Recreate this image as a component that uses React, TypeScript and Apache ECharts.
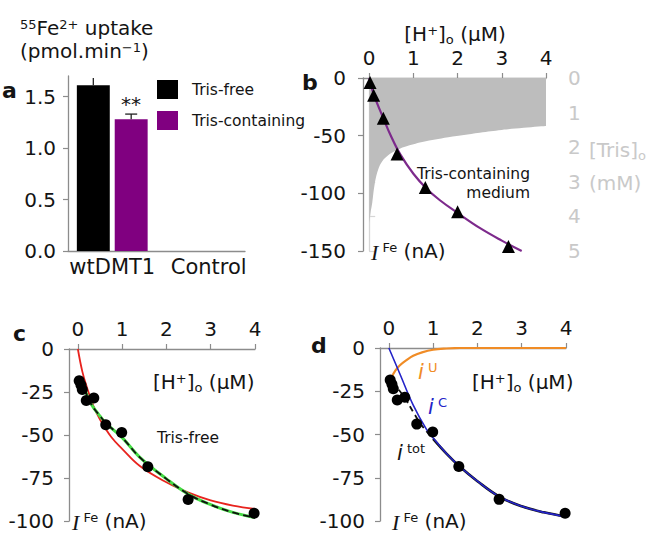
import React, { useEffect, useRef } from 'react';
import * as echarts from 'echarts';

// ---------- Panel a: 55Fe2+ uptake ----------
const barCategories = ['wtDMT1', 'Control'];
const trisFreeUptake = [1.61, 0];
const trisFreeErr = [0.07, 0];
const trisContUptake = [1.28, 0];
const trisContErr = [0.05, 0];
const uptakeTicks = [0, 0.5, 1.0, 1.5];

// ---------- Shared [H+]o ticks ----------
const hTicks = [0, 1, 2, 3, 4];

// ---------- Panel b: Tris-containing medium ----------
const trisH = [0, 0.03, 0.07, 0.12, 0.2, 0.3, 0.43, 0.6, 0.81, 1.2, 1.79, 2.5, 3, 3.5, 4];
const trisConc = [4.2, 3.9, 3.6, 3.1, 2.66, 2.4, 2.23, 2.1, 1.99, 1.85, 1.71, 1.58, 1.5, 1.44, 1.39];
const fitBH = [0, 0.1, 0.3, 0.5, 0.7, 1, 1.3, 1.6, 2, 2.5, 3, 3.45];
const fitBI = [0, -14, -33, -51, -66, -83, -96, -106, -117, -130, -141, -150];
const triH = [0.02, 0.1, 0.32, 0.63, 1.27, 2.0, 3.15];
const triI = [-4, -15, -35, -66, -95, -116, -146];

// ---------- Panels c & d: Tris-free data ----------
const dataH = [0.03, 0.07, 0.1, 0.19, 0.36, 0.63, 0.99, 1.58, 2.49, 3.98];
const dataI = [-18.5, -21, -23.5, -30, -28.5, -44, -48.5, -68.5, -87.5, -95.5];

// panel c fits
const redH = [0, 0.1, 0.2, 0.35, 0.5, 0.75, 1, 1.4, 2, 2.5, 3, 3.5, 4];
const redI = [0, -13, -22, -33, -41, -51, -58, -68, -77.5, -83.5, -88, -91, -93];
const greenH = [0.15, 0.3, 0.5, 0.65, 1, 1.4, 2, 2.5, 3, 3.5, 4];
const greenI = [-23, -32, -39, -43.5, -51.5, -63, -75.5, -84.5, -90.5, -95, -98];

// panel d components
const iuH = [0.06, 0.15, 0.25, 0.4, 0.55, 0.75, 1, 1.3, 1.6, 2, 3, 4];
const iuI = [-17, -13, -10, -7, -4.5, -2.5, -1, -0.3, 0, 0, 0, 0];
const icH = [0, 0.25, 0.55, 0.85, 1.05, 1.3, 1.6, 2, 2.5, 3, 3.5, 4];
const icI = [0, -15, -33, -47, -53.5, -61, -68.5, -77, -86, -91.5, -95, -97.5];
const itotDashH = [0.06, 0.25, 0.4, 0.55, 0.75, 1];
const itotDashI = [-20, -25, -30.5, -37, -45, -52.5];
const itotH = [1, 1.3, 1.6, 2, 2.5, 3, 3.5, 4];
const itotI = [-52.5, -61, -68.5, -77, -86, -91.5, -95, -97.5];

const FONT = '"DejaVu Sans", Verdana, sans-serif';
const SERIF = '"Liberation Serif", "Times New Roman", serif';
const AX = '#8c8c8c';
const TXT = '#141414';
const LIGHT = '#c9c9c9';
const ORANGE = '#f08c26';
const BLUE = '#2424c8';

const zip = (a: number[], b: number[]) => a.map((v, i) => [v, b[i]]);

const valueAxisX = (grid: number, min: number) => ({
  type: 'value', gridIndex: grid, position: 'top', min, max: 4,
  axisLine: { show: true, onZero: false, lineStyle: { color: AX, width: 1.3 } },
  axisTick: { show: true, length: 5, lineStyle: { color: AX, width: 1.2 }, customValues: hTicks },
  axisLabel: { fontSize: 20, color: TXT, fontFamily: FONT, margin: 10, customValues: hTicks },
  splitLine: { show: false },
});

const valueAxisY = (grid: number, min: number, max: number, interval: number, margin: number) => ({
  type: 'value', gridIndex: grid, min, max, interval,
  axisLine: { show: true, onZero: false, lineStyle: { color: AX, width: 1.3 } },
  axisTick: { show: true, length: 5, lineStyle: { color: AX, width: 1.2 } },
  axisLabel: { fontSize: 20, color: TXT, fontFamily: FONT, margin },
  splitLine: { show: false },
});

const rich = (color: string) => ({
  n: { fontSize: 20, fontFamily: FONT, fill: color, color, lineHeight: 22, verticalAlign: 'top' },
  it: { fontSize: 22, fontFamily: SERIF, fontStyle: 'italic', fill: color, color, lineHeight: 22, verticalAlign: 'top' },
  is: { fontSize: 21, fontFamily: FONT, fontStyle: 'italic', fill: color, color, lineHeight: 22, verticalAlign: 'top' },
  sup: { fontSize: 13, fontFamily: FONT, fill: color, color, lineHeight: 9, verticalAlign: 'top' },
  sub: { fontSize: 13, fontFamily: FONT, fill: color, color, lineHeight: 13, padding: [14, 0, 0, 0], verticalAlign: 'bottom' },
});

const txt = (x: number, y: number, text: string, color = TXT, align = 'left', extra: any = {}) => ({
  type: 'text', x, y, z: 100,
  style: {
    text, rich: rich(color), fill: color, fontFamily: FONT, fontSize: 20,
    align, verticalAlign: 'middle', textAlign: align, textVerticalAlign: 'middle', ...extra,
  },
});

const plain = (x: number, y: number, text: string, size: number, align = 'left', bold = false) => ({
  type: 'text', x, y, z: 100,
  style: {
    text, fill: TXT, fontFamily: FONT, fontSize: size, fontWeight: bold ? 'bold' : 'normal',
    align, verticalAlign: 'middle', textAlign: align, textVerticalAlign: 'middle',
  },
});

const errSeries = (vals: number[], errs: number[], side: number, cap: boolean) => ({
  type: 'custom', xAxisIndex: 0, yAxisIndex: 0, z: 5,
  data: vals.map((v, i) => [i, v, errs[i]]),
  renderItem: (params: any, api: any) => {
    const i = api.value(0), v = api.value(1), e = api.value(2);
    if (!e) return { type: 'group', children: [] };
    const band = api.size([1, 0])[0];
    const w = (band * 0.8) / 2.15;
    const off = side * (w / 2 + (w * 0.15) / 2);
    const p0 = api.coord([i, v]);
    const p1 = api.coord([i, v + e]);
    const x = p0[0] + off;
    const children: any[] = [
      { type: 'line', shape: { x1: x, y1: p0[1], x2: x, y2: p1[1] }, style: { stroke: '#222', lineWidth: 1.3 } },
    ];
    if (cap) children.push({ type: 'line', shape: { x1: x - 6, y1: p1[1], x2: x + 6, y2: p1[1] }, style: { stroke: '#222', lineWidth: 1.3 } });
    return { type: 'group', children };
  },
});

export default function App() {
  const ref = useRef<HTMLDivElement>(null);
  useEffect(() => {
    if (!ref.current) return;
    const chart = echarts.init(ref.current, undefined, { renderer: 'svg' });
    const option: any = {
      animation: false,
      backgroundColor: '#ffffff',
      grid: [
        { left: 68, top: 76, width: 177, height: 175 },
        { left: 363, top: 78, width: 183, height: 173 },
        { left: 69, top: 349, width: 186, height: 172 },
        { left: 380, top: 348, width: 186, height: 173 },
      ],
      legend: {
        data: ['Tris-free', 'Tris-containing'], orient: 'vertical', left: 157, top: 80,
        itemWidth: 21, itemHeight: 19, itemGap: 12, icon: 'rect', padding: 0,
        textStyle: { fontSize: 15.5, color: TXT, fontFamily: FONT, padding: [0, 0, 0, 9] },
      },
      xAxis: [
        {
          type: 'category', gridIndex: 0, data: barCategories,
          axisLine: { show: true, lineStyle: { color: AX, width: 1.3 } },
          axisTick: { show: false },
          axisLabel: {
            fontSize: 21, color: TXT, fontFamily: FONT, margin: 5, interval: 0, hideOverlap: false,
            formatter: (v: string, i: number) => (i === 1 ? '{r|' + v + '}' : v),
            rich: { r: { fontSize: 21, color: TXT, fontFamily: FONT, padding: [0, 0, 0, 16] } },
          },
        },
        valueAxisX(1, -0.14),
        valueAxisX(2, -0.2),
        valueAxisX(3, -0.2),
      ],
      yAxis: [
        {
          type: 'value', gridIndex: 0, min: 0, max: 1.7,
          axisLine: { show: true, onZero: false, lineStyle: { color: AX, width: 1.3 } },
          axisTick: { show: true, length: 5, lineStyle: { color: AX, width: 1.2 }, customValues: uptakeTicks },
          axisLabel: { fontSize: 20, color: TXT, fontFamily: FONT, margin: 12, customValues: uptakeTicks, formatter: (v: number) => v.toFixed(1) },
          splitLine: { show: false },
        },
        valueAxisY(1, -150, 0, 50, 17),
        {
          type: 'value', gridIndex: 1, position: 'right', offset: 10, inverse: true, min: 0, max: 5, interval: 1,
          axisLine: { show: true, lineStyle: { color: '#d6d6d6', width: 1.3 } },
          axisTick: { show: true, length: 6, lineStyle: { color: '#d6d6d6', width: 1.2 } },
          axisLabel: { fontSize: 20, color: LIGHT, fontFamily: FONT, margin: 12 },
          splitLine: { show: false },
        },
        valueAxisY(2, -100, 0, 25, 15),
        valueAxisY(3, -100, 0, 25, 15),
      ],
      series: [
        // panel a
        { name: 'Tris-free', type: 'bar', xAxisIndex: 0, yAxisIndex: 0, data: trisFreeUptake, barCategoryGap: '20%', barGap: '15%', itemStyle: { color: '#000000' } },
        { name: 'Tris-containing', type: 'bar', xAxisIndex: 0, yAxisIndex: 0, data: trisContUptake, barCategoryGap: '20%', barGap: '15%', itemStyle: { color: '#800080' } },
        errSeries(trisFreeUptake, trisFreeErr, -1, false),
        errSeries(trisContUptake, trisContErr, 1, true),
        // panel b
        {
          type: 'line', xAxisIndex: 1, yAxisIndex: 2, data: zip(trisH, trisConc), smooth: 0.4, symbol: 'none', z: 1,
          lineStyle: { width: 0, color: '#bdbdbd' }, areaStyle: { color: '#bdbdbd', opacity: 1, origin: 'start' },
        },
        {
          type: 'line', xAxisIndex: 1, yAxisIndex: 1, data: zip(fitBH, fitBI), smooth: 0.4, symbol: 'none', z: 3,
          lineStyle: { width: 2.2, color: '#7d2a8c' },
        },
        {
          type: 'scatter', xAxisIndex: 1, yAxisIndex: 1, data: zip(triH, triI), symbol: 'triangle', symbolSize: 13, z: 4,
          itemStyle: { color: '#000000', opacity: 1 },
        },
        // panel c
        { type: 'line', xAxisIndex: 2, yAxisIndex: 3, data: zip(redH, redI), smooth: 0.4, symbol: 'none', z: 3, lineStyle: { width: 1.8, color: '#e8231e' } },
        { type: 'line', xAxisIndex: 2, yAxisIndex: 3, data: zip(greenH, greenI), smooth: 0.4, symbol: 'none', z: 3, lineStyle: { width: 3, color: '#44dd44' } },
        { type: 'line', xAxisIndex: 2, yAxisIndex: 3, data: zip(greenH, greenI), smooth: 0.4, symbol: 'none', z: 4, lineStyle: { width: 1.8, color: '#111111', type: [7, 4] } },
        { type: 'scatter', xAxisIndex: 2, yAxisIndex: 3, data: zip(dataH, dataI), symbol: 'circle', symbolSize: 11, z: 5, itemStyle: { color: '#000000', opacity: 1 } },
        // panel d
        { type: 'line', xAxisIndex: 3, yAxisIndex: 4, data: zip(iuH, iuI), smooth: 0.4, symbol: 'none', z: 3, lineStyle: { width: 2.2, color: ORANGE } },
        { type: 'line', xAxisIndex: 3, yAxisIndex: 4, data: zip(itotDashH, itotDashI), smooth: 0.4, symbol: 'none', z: 3, lineStyle: { width: 1.8, color: '#111111', type: [6, 4] } },
        { type: 'line', xAxisIndex: 3, yAxisIndex: 4, data: zip(itotH, itotI), smooth: 0.4, symbol: 'none', z: 3, lineStyle: { width: 2.6, color: '#111111' } },
        { type: 'line', xAxisIndex: 3, yAxisIndex: 4, data: zip(icH, icI), smooth: 0.4, symbol: 'none', z: 4, lineStyle: { width: 1.6, color: BLUE } },
        { type: 'scatter', xAxisIndex: 3, yAxisIndex: 4, data: zip(dataH, dataI), symbol: 'circle', symbolSize: 11, z: 5, itemStyle: { color: '#000000', opacity: 1 } },
      ],
      graphic: [
        // panel a
        txt(20, 29, '{sup|55}{n|Fe}{sup|2+}{n| uptake}'),
        txt(20, 52, '{n|(pmol.min}{sup|\u22121}{n|)}'),
        plain(2, 90, 'a', 22, 'left', true),
        plain(131, 104, '**', 20, 'center'),
        // panel b
        plain(302, 82, 'b', 22, 'left', true),
        txt(455, 35, '{n|[H}{sup|+}{n|]}{sub|o}{n| (\u03bcM)}', TXT, 'center'),
        txt(371, 252, '{it|I}{sup| Fe}{n| (nA)}'),
        plain(530, 174, 'Tris-containing', 15.5, 'right'),
        plain(530, 193, 'medium', 15.5, 'right'),
        txt(589, 151, '{n|[Tris]}{sub|o}', LIGHT),
        txt(589, 184, '{n|(mM)}', LIGHT),
        // panel c
        plain(13, 333, 'c', 22, 'left', true),
        txt(153, 383, '{n|[H}{sup|+}{n|]}{sub|o}{n| (\u03bcM)}'),
        plain(157, 438, 'Tris-free', 15.5, 'left'),
        txt(72, 522, '{it|I}{sup| Fe}{n| (nA)}'),
        // panel d
        plain(311, 345, 'd', 22, 'left', true),
        txt(472, 383, '{n|[H}{sup|+}{n|]}{sub|o}{n| (\u03bcM)}'),
        txt(392, 522, '{it|I}{sup| Fe}{n| (nA)}'),
        txt(418, 372, '{is|i}{sup| U}', ORANGE),
        txt(428, 407, '{is|i}{sup| C}', BLUE),
        txt(397, 453, '{is|i}{sup| tot}', TXT),
      ],
    };
    chart.setOption(option);
    return () => chart.dispose();
  }, []);
  return (
    <div
      ref={ref}
      style={{ position: 'fixed', left: 0, top: 0, width: 653, height: 538, background: '#fff' }}
    />
  );
}
